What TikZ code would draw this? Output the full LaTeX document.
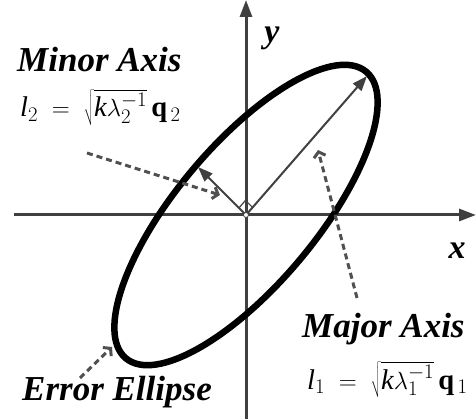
\documentclass[tikz,border=0pt]{standalone}
\usepackage{fontspec}
\setmainfont{Liberation Serif}
\usetikzlibrary{arrows.meta,calc}
\definecolor{axisgray}{HTML}{404040}
\definecolor{dashgray}{HTML}{505050}
\begin{document}
\begin{tikzpicture}[x=1pt,y=-1pt,
  axis/.style={draw=axisgray, line width=3pt, -{Triangle[length=17pt,width=12pt]}},
  vec/.style={draw=axisgray, line width=2pt, -{Triangle[length=15pt,width=11pt]}},
  pointer/.style={draw=dashgray, line width=3pt, dash pattern=on 6pt off 4pt, -{Straight Barb[length=5pt,width=12pt]}},
  title/.style={font=\fontsize{35}{40}\selectfont\bfseries\itshape, inner sep=0pt, anchor=base west},
  formula/.style={font=\fontsize{28.5}{32}\selectfont, inner sep=0pt, anchor=base west},
  axlabel/.style={font=\fontsize{34}{40}\selectfont\bfseries\itshape, inner sep=0pt},
]
\useasboundingbox (0,0) rectangle (476,419);
% key points
\coordinate (O) at (246,215);
\coordinate (xs) at (14,215);
\coordinate (xe) at (476,215);
\coordinate (ys) at (246,419);
\coordinate (ye) at (246,0);
\coordinate (maj) at (367,76);
\coordinate (mnr) at (198,167);
% axes
\draw[axis] (xs) -- (xe);
\draw[axis] (ys) -- (ye);
% ellipse
\draw[line width=6.5pt, rotate around={50:(O)}] (O) ellipse [x radius=187pt, y radius=70pt];
% axis vectors
\draw[vec] (O) -- (maj);
\draw[vec] (O) -- (mnr);
% right angle mark
\coordinate (ra1) at ($(O)!10pt!(maj)$);
\coordinate (ra2) at ($(O)!10pt!(mnr)$);
\coordinate (ra3) at ($(ra1)+(ra2)-(O)$);
\draw[axisgray, line width=1.2pt] (ra1) -- (ra3) -- (ra2);
\node[circle, fill=white, draw=axisgray, line width=0.8pt, minimum size=5pt, inner sep=0pt] (origin) at (O) {};
% labels
\node[title] (minor) at (17,72) {Minor Axis};
\node[formula] (minorf) at (20,117) {$\mathit{l}_{2} \;=\; \sqrt{\mathit{k}\lambda_{2}^{-1}}\,\mathbf{q}_{\,2}$};
\node[title] (major) at (302,337) {Major Axis};
\node[formula] (majorf) at (307,389) {$\mathit{l}_{1} \;=\; \sqrt{\mathit{k}\lambda_{1}^{-1}}\,\mathbf{q}_{\,1}$};
\node[title] (err) at (22,400) {Error Ellipse};
\node[axlabel] (xl) at (457,251) {x};
\node[axlabel] (yl) at (272,38) {y};
% pointers
\coordinate (p1s) at (87,153);
\coordinate (p1e) at (220,195);
\coordinate (p2s) at (357,298);
\coordinate (p2e) at (318,150);
\coordinate (p3s) at (80,378);
\coordinate (p3e) at (112,347);
\draw[pointer] (p1s) -- (p1e);
\draw[pointer] (p2s) -- (p2e);
\draw[pointer] (p3s) -- (p3e);
\end{tikzpicture}
\end{document}
